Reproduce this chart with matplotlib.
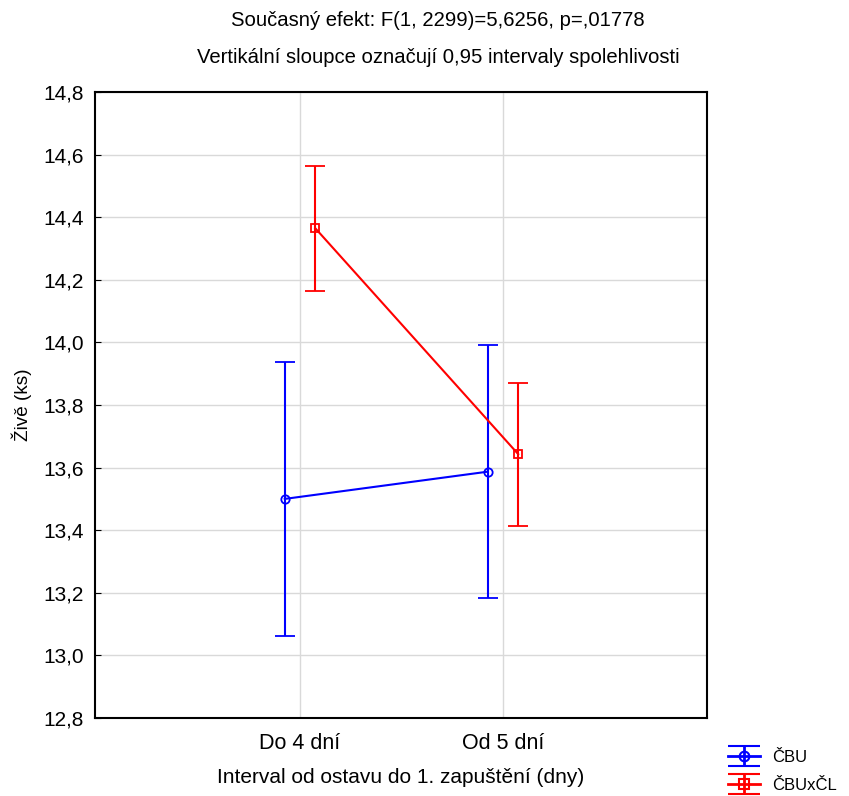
import numpy as np
import matplotlib
matplotlib.use("Agg")
import matplotlib.pyplot as plt
from matplotlib.ticker import FuncFormatter
from matplotlib.container import ErrorbarContainer
from matplotlib.legend_handler import HandlerErrorbar

plt.rcParams['font.family'] = ['Liberation Sans', 'DejaVu Sans']

kategorie = ["Do 4 dní", "Od 5 dní"]
cbu_prumer = [13.50, 13.587]
cbu_dolni = [13.062, 13.182]
cbu_horni = [13.936, 13.993]
cbuxcl_prumer = [14.365, 13.643]
cbuxcl_dolni = [14.163, 13.413]
cbuxcl_horni = [14.563, 13.870]

fig = plt.figure(figsize=(8.49, 7.96), dpi=100)
ax = fig.add_axes([0.1119, 0.098, 0.7208, 0.7864])

x = np.arange(len(kategorie))
posun = 0.075

def kresli(xs, prumer, dolni, horni, barva, znacka, popis):
    prumer = np.array(prumer)
    chyby = [prumer - np.array(dolni), np.array(horni) - prumer]
    ax.errorbar(xs, prumer, yerr=chyby, color=barva, marker=znacka,
                markerfacecolor='none', markeredgecolor=barva, markersize=6,
                markeredgewidth=1.3, linewidth=1.5, elinewidth=1.5,
                capsize=7.5, capthick=1.5, zorder=3)
    # zastupny prvek do legendy se sirsimi prickami
    return ax.errorbar([np.nan], [np.nan], yerr=[[1], [1]], color=barva, marker=znacka,
                       markerfacecolor='none', markeredgecolor=barva, markersize=7,
                       markeredgewidth=1.5, linewidth=2, elinewidth=2,
                       capsize=11.5, capthick=2, label=popis)

h1 = kresli(x - posun, cbu_prumer, cbu_dolni, cbu_horni, '#0000ff', 'o', 'ČBU')
h2 = kresli(x + posun, cbuxcl_prumer, cbuxcl_dolni, cbuxcl_horni, '#ff0000', 's', 'ČBUxČL')

ax.set_xlim(-1.01, 2.005)
ax.set_ylim(12.8, 14.8)
ax.set_xticks(x)
ax.set_xticklabels(kategorie)
ax.set_yticks(np.arange(12.8, 14.81, 0.2))
ax.yaxis.set_major_formatter(FuncFormatter(lambda v, p: f"{v:.1f}".replace('.', ',')))
ax.grid(True, color='#d9d9d9', linewidth=1)
ax.set_axisbelow(True)
ax.tick_params(axis='y', direction='in', length=4, labelsize=15, pad=8)
ax.tick_params(axis='x', length=0, labelsize=15.5, pad=11)
for s in ax.spines.values():
    s.set_linewidth(1.5)

ax.set_xlabel("Interval od ostavu do 1. zapuštění (dny)", fontsize=15, labelpad=10)
ax.set_ylabel("Živě (ks)", fontsize=13.6, labelpad=8)

fig.text(0.516, 0.974, "Současný efekt: F(1, 2299)=5,6256, p=,01778",
         ha='center', va='center', fontsize=14.6)
fig.text(0.516, 0.928, "Vertikální sloupce označují 0,95 intervaly spolehlivosti",
         ha='center', va='center', fontsize=14.6)

ax.legend(handles=[h1, h2], loc='center left', bbox_to_anchor=(0.857, 0.031),
          bbox_transform=fig.transFigure, frameon=False, fontsize=12,
          handlelength=1.95, handletextpad=0.75, labelspacing=0.75, borderaxespad=0,
          borderpad=0, handler_map={ErrorbarContainer: HandlerErrorbar(yerr_size=0.6)})

fig.savefig("out.png", dpi=100)
